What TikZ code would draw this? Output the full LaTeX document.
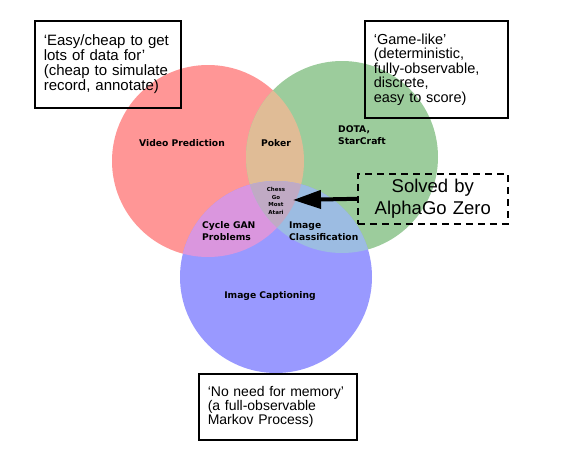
\documentclass[tikz,border=0pt]{standalone}
\usepackage{fontspec}
\setmainfont{Liberation Sans}
\newfontfamily\labelfont{DejaVu Sans}
\usepackage{tikz}
\usetikzlibrary{arrows.meta}
\definecolor{setred}{HTML}{FF9696}
\definecolor{setgreen}{HTML}{9CCC9C}
\definecolor{setblue}{HTML}{9999FF}
\definecolor{redgreen}{HTML}{E0BC96}
\definecolor{redblue}{HTML}{DA96DE}
\definecolor{greenblue}{HTML}{9CBCE2}
\definecolor{allthree}{HTML}{C0AAC4}
\hyphenpenalty=10000
\exhyphenpenalty=10000

\begin{document}
\begin{tikzpicture}[x=1pt, y=-1pt]
% Define styles
\tikzstyle{set} = [circle, minimum size=192pt, inner sep=0pt]
\tikzstyle{setlabel} = [inner sep=0pt, font=\labelfont\bfseries\fontsize{9.2}{12}\selectfont]
\tikzstyle{note} = [draw=black, line width=1.6pt, anchor=north west, inner xsep=9pt, align=left]
\tikzstyle{arrow} = [-{Triangle[length=28pt, width=18pt]}, line width=4pt, draw=black]
\useasboundingbox (0,0) rectangle (576,461);
% Define sets (circles)
\node[set, fill=setred] (Easy) at (208,161) {};
\node[set, fill=setgreen] (Game) at (342,157) {};
\node[set, fill=setblue] (Memory) at (276,277) {};
% Overlaps
\begin{scope}
\clip (Easy.center) circle (96pt);
\fill[redgreen] (Game.center) circle (96pt);
\fill[redblue] (Memory.center) circle (96pt);
\end{scope}
\begin{scope}
\clip (Game.center) circle (96pt);
\fill[greenblue] (Memory.center) circle (96pt);
\end{scope}
\begin{scope}
\clip (Easy.center) circle (96pt);
\clip (Game.center) circle (96pt);
\fill[allthree] (Memory.center) circle (96pt);
\end{scope}
% Set labels
\node[setlabel] (VideoPrediction) at (182,143) {Video Prediction};
\node[setlabel] (Poker) at (276,143) {Poker};
\node[setlabel, anchor=west, align=left] (Dota) at (338,135) {DOTA,\\StarCraft};
\node[setlabel, align=center, font=\labelfont\bfseries\fontsize{5.5}{7.7}\selectfont] (Chess) at (276,201) {Chess\\Go\\Most\\Atari};
\node[setlabel, anchor=west, align=left] (CycleGAN) at (202,231) {Cycle GAN\\Problems};
\node[setlabel, anchor=west, align=left] (ImageClassification) at (289,231) {Image\\Classification};
\node[setlabel] (ImageCaptioning) at (270,296) {Image Captioning};
% Notes (boxes)
\node[note, minimum width=146pt, minimum height=87pt, text width=128pt, font=\fontsize{15}{15}\selectfont] (EasyNote) at (34,20) {`Easy/cheap to get\\lots of data for'\\(cheap to simulate\\record, annotate)};
\node[note, minimum width=143pt, minimum height=97pt, text width=125pt, font=\fontsize{14.5}{14.5}\selectfont] (GameNote) at (364,20) {`Game-like'\\(deterministic,\\fully-observable,\\discrete,\\easy to score)};
\node[note, minimum width=158pt, minimum height=66pt, text width=140pt, font=\fontsize{14}{14}\selectfont] (MemoryNote) at (198,373) {`No need for memory'\\(a full-observable\\Markov Process)};
\node[note, dashed, dash pattern=on 7pt off 5pt, minimum width=150pt, minimum height=50pt, text width=132pt, align=center, font=\fontsize{18.5}{22}\selectfont] (Solved) at (357,173) {Solved by\\AlphaGo Zero};
% Arrow
\coordinate (ChessTip) at (293,200);
\draw[arrow] (Solved.west) -- (ChessTip);
\end{tikzpicture}
\end{document}
